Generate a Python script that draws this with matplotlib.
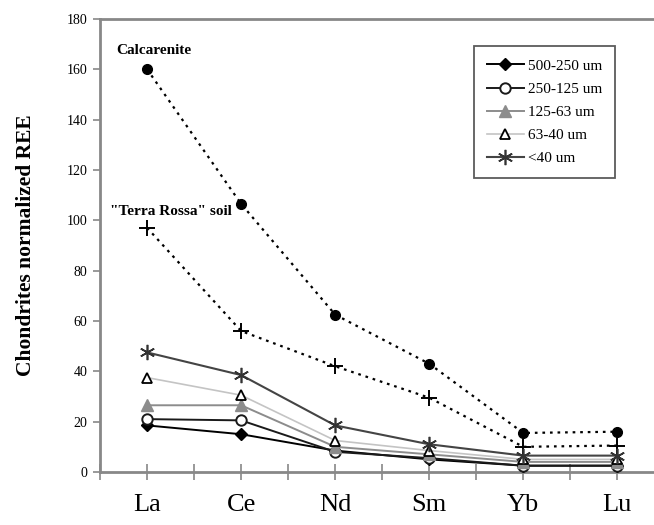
import numpy as np
import matplotlib
matplotlib.use("Agg")
import matplotlib.pyplot as plt

plt.rcParams['font.family'] = ['Liberation Serif', 'DejaVu Serif']

elements = ["La", "Ce", "Nd", "Sm", "Yb", "Lu"]

calcarenite = [160, 106.5, 62.5, 43, 15.5, 16]
terra_rossa = [97, 56, 42, 29.5, 10, 10.5]

size_labels = ["500-250 um", "250-125 um", "125-63 um", "63-40 um", "<40 um"]
s500_250 = [18.5, 15, 8.5, 5, 2.5, 2.5]
s250_125 = [21, 20.5, 8, 5.5, 2.5, 2.5]
s125_63 = [26.5, 26.5, 10, 7, 4, 4]
s63_40 = [37.5, 30.5, 12.5, 8.5, 5, 5]
s40 = [47.5, 38.5, 18.5, 11, 6.5, 6.5]

x = np.arange(len(elements))

fig = plt.figure(figsize=(6.54, 5.25), dpi=100)
ax = fig.add_axes([0.153, 0.101, 0.847, 0.863])

# dotted reference curves
ax.plot(x, calcarenite, color="black", linestyle=(0, (1.2, 2.2)), lw=1.6,
        marker="o", markersize=7, markerfacecolor="black", zorder=3)
ax.plot(x, terra_rossa, color="black", linestyle=(0, (1.2, 2.2)), lw=1.6,
        marker="+", markersize=11, markeredgewidth=1.4, zorder=3)

# grain size fractions
ax.plot(x, s500_250, color="black", lw=1.4, marker="D", markersize=6,
        markerfacecolor="black", label=size_labels[0], zorder=4)
ax.plot(x, s250_125, color="#1a1a1a", lw=1.4, marker="o", markersize=7.5,
        markerfacecolor="white", markeredgewidth=1.4, label=size_labels[1], zorder=4)
ax.plot(x, s125_63, color="#8c8c8c", lw=1.4, marker="^", markersize=8,
        markerfacecolor="#8c8c8c", markeredgecolor="#8c8c8c", label=size_labels[2], zorder=4)
ax.plot(x, s63_40, color="#c4c4c4", lw=1.2, marker="^", markersize=7.5,
        markerfacecolor="white", markeredgecolor="black", markeredgewidth=1.3,
        label=size_labels[3], zorder=4)
ax.plot(x, s40, color="#444444", lw=1.5, marker=(6, 2, 0), markersize=11,
        markeredgewidth=1.2, markeredgecolor="#333333", label=size_labels[4], zorder=4)

ax.text(0.07, 165, "Calcarenite", ha="center", va="bottom", fontsize=11, fontweight="bold")
ax.text(0.255, 101, '"Terra Rossa" soil', ha="center", va="bottom", fontsize=11,
        fontweight="bold")

ax.set_xlim(-0.5, 5.39)
ax.set_ylim(0, 180)
ax.set_yticks(np.arange(0, 181, 20))
ax.set_xticks(x)
ax.set_xticklabels(elements, fontsize=19)
ax.set_xticks(np.arange(-0.5, 5.4, 1.0), minor=True)
ax.tick_params(axis="x", which="both", direction="inout", length=12, width=1.2,
               color="#888888", pad=10)
ax.tick_params(axis="y", direction="out", length=5, width=1.2, color="#888888",
               labelsize=10, pad=4)

for side in ["left", "bottom", "top"]:
    ax.spines[side].set_color("#888888")
    ax.spines[side].set_linewidth(2)
ax.spines["right"].set_visible(False)

ax.set_ylabel("Chondrites normalized REE", fontsize=15.5, fontweight="bold", labelpad=22)

leg = ax.legend(loc="upper left", bbox_to_anchor=(0.675, 0.94), fontsize=11,
                frameon=True, fancybox=False, edgecolor="#333333",
                handlelength=2.4, handletextpad=0.3, borderpad=0.85,
                labelspacing=0.62, borderaxespad=0)
leg.get_frame().set_linewidth(1.3)

fig.savefig("out.png", dpi=100)
